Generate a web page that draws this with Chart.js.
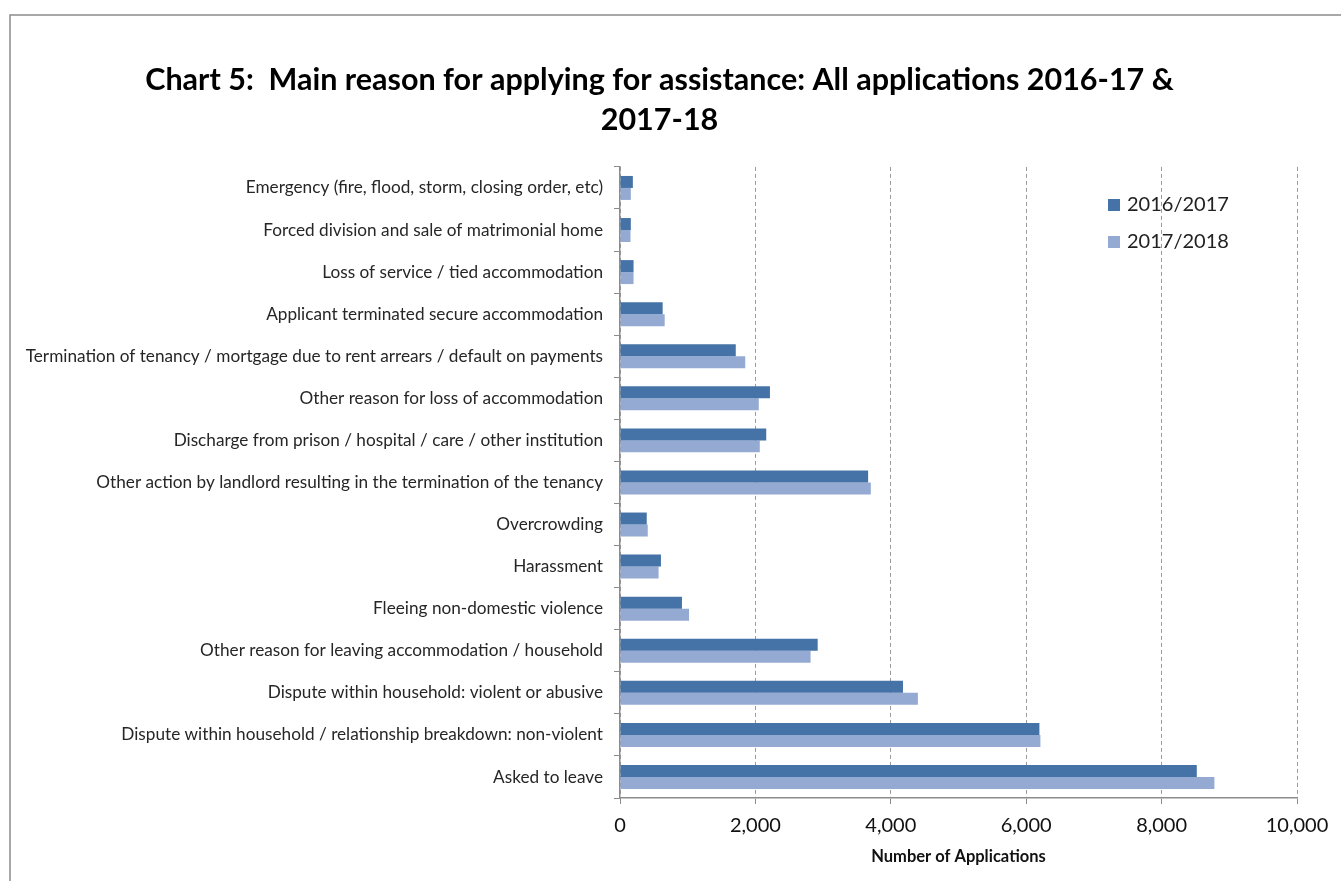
<!DOCTYPE html>
<html lang="en">
<head>
    <meta charset="UTF-8">
    <script src="https://cdn.jsdelivr.net/npm/chart.js"></script>
    <style>
        body { margin: 0; background: #fff; }
    </style>
</head>
<body>
    <canvas id="myChart1" width="1341" height="881"></canvas>

    <script>
        var reasons = [
            'Emergency (fire, flood, storm, closing order, etc)',
            'Forced division and sale of matrimonial home',
            'Loss of service / tied accommodation',
            'Applicant terminated secure accommodation',
            'Termination of tenancy / mortgage due to rent arrears / default on payments',
            'Other reason for loss of accommodation',
            'Discharge from prison / hospital / care / other institution',
            'Other action by landlord resulting in the termination of the tenancy',
            'Overcrowding',
            'Harassment',
            'Fleeing non-domestic violence',
            'Other reason for leaving accommodation / household',
            'Dispute within household: violent or abusive',
            'Dispute within household / relationship breakdown: non-violent',
            'Asked to leave'
        ];
        var apps1617 = [190, 160, 200, 630, 1710, 2215, 2160, 3665, 395, 605, 915, 2920, 4180, 6195, 8520];
        var apps1718 = [160, 155, 200, 660, 1850, 2050, 2065, 3705, 410, 570, 1020, 2815, 4400, 6210, 8780];
        var seriesNames = ['2016/2017', '2017/2018'];
        var seriesColors = ['#4573A7', '#95AAD2'];

        var fontFamily = 'Lato, "Open Sans", sans-serif';

        // grey frame round the chart (runs off the right and bottom edge)
        var framePlugin = {
            id: 'frame',
            beforeDraw: function(chart) {
                var c = chart.ctx;
                c.save();
                c.strokeStyle = '#8c8c8c';
                c.lineWidth = 1.5;
                c.beginPath();
                c.moveTo(10, chart.height + 5);
                c.lineTo(10, 15);
                c.lineTo(chart.width + 5, 15);
                c.stroke();
                c.restore();
            }
        };

        // legend sits inside the plot, top right
        var legendPlugin = {
            id: 'insideLegend',
            afterDraw: function(chart) {
                var c = chart.ctx;
                c.save();
                c.font = '20px ' + fontFamily;
                c.textBaseline = 'middle';
                c.textAlign = 'left';
                seriesNames.forEach(function(name, i) {
                    var y = 205 + i * 37;
                    c.fillStyle = seriesColors[i];
                    c.fillRect(1108, y - 6, 12, 12);
                    c.fillStyle = '#222';
                    c.fillText(name, 1127, y);
                });
                c.restore();
            }
        };

        var ctx1 = document.getElementById('myChart1').getContext('2d');
        new Chart(ctx1, {
            type: 'bar',
            data: {
                labels: reasons,
                datasets: [
                    {
                        label: seriesNames[0],
                        data: apps1617,
                        backgroundColor: seriesColors[0]
                    },
                    {
                        label: seriesNames[1],
                        data: apps1718,
                        backgroundColor: seriesColors[1]
                    }
                ]
            },
            plugins: [framePlugin, legendPlugin],
            options: {
                indexAxis: 'y',
                responsive: false,
                animation: false,
                categoryPercentage: 0.57,
                barPercentage: 1.0,
                layout: {
                    padding: { left: 22, right: 44, top: 0, bottom: 0 }
                },
                scales: {
                    x: {
                        min: 0,
                        max: 10000,
                        ticks: {
                            stepSize: 2000,
                            padding: 10,
                            color: '#111',
                            font: { family: fontFamily, size: 20 },
                            callback: function(v) { return v.toLocaleString('en-GB'); }
                        },
                        grid: {
                            color: '#9a9a9a',
                            tickLength: 6,
                            tickColor: '#8c8c8c',
                            tickBorderDash: []
                        },
                        // in v4 border.dash dashes the grid lines, not the axis line
                        border: { color: '#8c8c8c', width: 1.5, dash: [4, 3] },
                        title: {
                            display: true,
                            text: 'Number of Applications',
                            color: '#111',
                            font: { family: fontFamily, size: 16.5, weight: 'bold' },
                            padding: { top: 4, bottom: 14 }
                        },
                        afterFit: function(scale) { scale.height = 83; }
                    },
                    y: {
                        ticks: {
                            padding: 11,
                            color: '#262626',
                            autoSkip: false,
                            font: { family: fontFamily, size: 17.2 }
                        },
                        grid: {
                            offset: true,
                            drawOnChartArea: false,
                            tickLength: 6,
                            color: '#8c8c8c'
                        },
                        border: { color: '#8c8c8c', width: 1.5 },
                        afterFit: function(scale) { scale.width = 598; }
                    }
                },
                plugins: {
                    legend: { display: false },
                    tooltip: { enabled: false },
                    title: {
                        display: true,
                        text: ['Chart 5:  Main reason for applying for assistance: All applications 2016-17 &', '2017-18'],
                        color: '#000',
                        font: { family: fontFamily, size: 30.5, weight: 'bold', lineHeight: 1.31 },
                        padding: { top: 60, bottom: 27 }
                    }
                }
            }
        });
    </script>
</body>
</html>
